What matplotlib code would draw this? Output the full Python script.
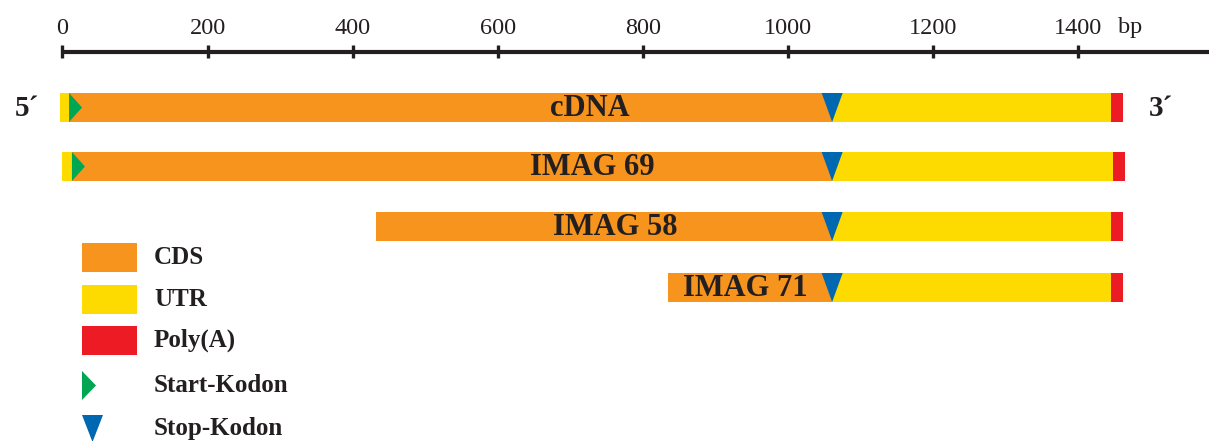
import matplotlib
matplotlib.use("Agg")
from matplotlib import pyplot as plt
from matplotlib.patches import Polygon

# --- data (bp) ---
klone = ["cDNA", "IMAG 69", "IMAG 58", "IMAG 71"]
anfang = [-3, 0, 432, 835]
start_kodon = [9, 13, None, None]
stop_kodon = [1061, 1061, 1061, 1061]
polya_anfang = [1445, 1448, 1445, 1445]
ende = [1462, 1465, 1462, 1462]
label_pos = [727, 730, 762, 941]

ticks = [0, 200, 400, 600, 800, 1000, 1200, 1400]
legende = ["CDS", "UTR", "Poly(A)", "Start-Kodon", "Stop-Kodon"]

# --- style ---
ORANGE = "#F7941E"
GELB = "#FDDB00"
ROT = "#ED1C24"
GRUEN = "#00A651"
BLAU = "#0067B1"
TEXT = "#231F20"
SERIF = ["Liberation Serif", "DejaVu Serif"]

PX = 0.7254          # pixel per bp
X0 = 62.5            # pixel position of 0 bp
ZEILEN_Y = [107.5, 166.5, 226.5, 287.5]
HOEHE = 29

fig = plt.figure(figsize=(12.09, 4.41), dpi=100)
ax = fig.add_axes([0, 0, 1, 1])
ax.set_xlim(-X0 / PX, (1209 - X0) / PX)
ax.set_ylim(441, 0)
ax.axis("off")


def px(w):
    return w / PX


# scale bar
ax.plot([0, ax.get_xlim()[1]], [51.5, 51.5], color=TEXT, lw=3, solid_capstyle="butt")
for t in ticks:
    ax.plot([t, t], [45, 58], color=TEXT, lw=2.4, solid_capstyle="butt")
    ax.text(t, 28, str(t), ha="center", va="center", fontsize=17.5, family=SERIF, color=TEXT)
ax.text(1472, 28, "bp", ha="center", va="center", fontsize=17.5, family=SERIF, color=TEXT)

# bars
for i, name in enumerate(klone):
    y = ZEILEN_Y[i]
    cds_anfang = start_kodon[i] if start_kodon[i] is not None else anfang[i]
    if start_kodon[i] is not None:
        ax.barh(y, start_kodon[i] - anfang[i], left=anfang[i], height=HOEHE, color=GELB, lw=0)
    ax.barh(y, stop_kodon[i] - cds_anfang, left=cds_anfang, height=HOEHE, color=ORANGE, lw=0)
    ax.barh(y, polya_anfang[i] - stop_kodon[i], left=stop_kodon[i], height=HOEHE, color=GELB, lw=0)
    ax.barh(y, ende[i] - polya_anfang[i], left=polya_anfang[i], height=HOEHE, color=ROT, lw=0)
    if start_kodon[i] is not None:
        s = start_kodon[i]
        ax.add_patch(Polygon([(s, y - HOEHE / 2), (s + px(13), y), (s, y + HOEHE / 2)],
                             closed=True, color=GRUEN, lw=0))
    e = stop_kodon[i]
    ax.add_patch(Polygon([(e - px(10.5), y - HOEHE / 2), (e + px(10.5), y - HOEHE / 2), (e, y + HOEHE / 2)],
                         closed=True, color=BLAU, lw=0))
    ax.text(label_pos[i], y + 1, name, ha="center", va="center", fontsize=22,
            fontweight="bold", family=SERIF, color=TEXT)

ax.text(px(27 - X0), 108, "5\u00b4", ha="center", va="center", fontsize=21,
        fontweight="bold", family=SERIF, color=TEXT)
ax.text(px(1161 - X0), 108, "3\u00b4", ha="center", va="center", fontsize=21,
        fontweight="bold", family=SERIF, color=TEXT)

# legend
lx = px(82 - X0)
leg_y = [257.5, 299.5, 340.5, 385.5, 428]
for j, farbe in enumerate([ORANGE, GELB, ROT]):
    ax.barh(leg_y[j], px(55), left=lx, height=29, color=farbe, lw=0)
y = leg_y[3]
ax.add_patch(Polygon([(lx, y - 14.5), (lx + px(14), y), (lx, y + 14.5)], closed=True, color=GRUEN, lw=0))
y = leg_y[4]
ax.add_patch(Polygon([(lx, y - 13), (lx + px(21), y - 13), (lx + px(10.5), y + 14)], closed=True, color=BLAU, lw=0))
for j, txt in enumerate(legende):
    ax.text(px(154 - X0), leg_y[j], txt, ha="left", va="center", fontsize=18,
            fontweight="bold", family=SERIF, color=TEXT)

plt.savefig("out.png", dpi=100)
